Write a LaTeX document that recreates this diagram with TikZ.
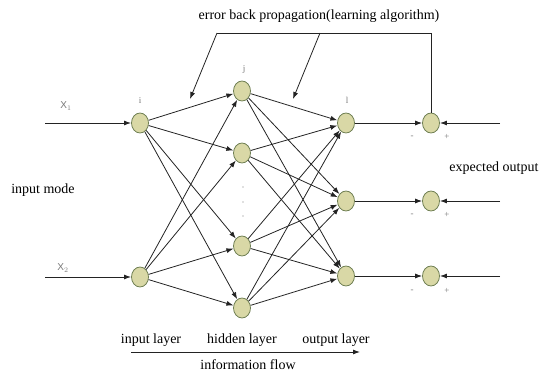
\documentclass[tikz,border=0pt]{standalone}
\usepackage{fontspec}
\setmainfont{Liberation Serif}
\setsansfont{Liberation Sans}
\usetikzlibrary{arrows.meta,shapes.geometric}
\definecolor{nodefill}{RGB}{217,216,166}
\definecolor{nodedraw}{RGB}{112,128,84}
\definecolor{linegray}{RGB}{35,35,35}
\definecolor{lblgray}{RGB}{120,120,120}
\begin{document}
\begin{tikzpicture}[x=1pt,y=-1pt,
  neuron/.style={ellipse,draw=nodedraw,fill=nodefill,line width=0.8pt,minimum width=17pt,minimum height=20pt,inner sep=0pt},
  conn/.style={draw=linegray,line width=0.8pt,-{Latex[length=7pt,width=5pt]}},
  plain/.style={draw=linegray,line width=0.9pt},
  lbl/.style={font=\fontsize{14}{16}\selectfont,inner sep=0pt},
  small/.style={font=\fontsize{9}{10}\selectfont,text=lblgray,inner sep=0pt},
  xlbl/.style={font=\sffamily\fontsize{10}{11}\selectfont,text=lblgray,inner sep=0pt},
  dot/.style={circle,fill=lblgray,inner sep=0pt,minimum size=1.3pt}]
\useasboundingbox (0,0) rectangle (539,375);

% neurons
\node[neuron] (i1) at (140,123) {};
\node[neuron] (i2) at (140,277) {};
\node[neuron] (h1) at (242,91) {};
\node[neuron] (h2) at (242,153) {};
\node[neuron] (h3) at (242,246) {};
\node[neuron] (h4) at (242,308) {};
\node[neuron] (o1) at (346,123) {};
\node[neuron] (o2) at (346,201) {};
\node[neuron] (o3) at (346,276) {};
\node[neuron] (s1) at (431,123) {};
\node[neuron] (s2) at (431,201) {};
\node[neuron] (s3) at (431,276) {};

% free ends
\coordinate (x1) at (45,123);
\coordinate (x2) at (45,277);
\coordinate (e1) at (500,123);
\coordinate (e2) at (500,201);
\coordinate (e3) at (500,276);
\coordinate (fbR) at (431,33);
\coordinate (fbL) at (217,33);
\coordinate (fbM) at (320,33);
\coordinate (ar1) at (190,99);
\coordinate (ar2) at (293,99);
\coordinate (flowA) at (131,352);
\coordinate (flowB) at (360,352);

% input lines
\draw[conn,line width=1pt] (x1) -- (i1);
\draw[conn,line width=1pt] (x2) -- (i2);

% input -> hidden
\foreach \a in {i1,i2}{
  \foreach \b in {h1,h2,h3,h4}{
    \draw[conn] (\a) -- (\b);
  }
}
% hidden -> output
\foreach \a in {h1,h2,h3,h4}{
  \foreach \b in {o1,o2,o3}{
    \draw[conn] (\a) -- (\b);
  }
}
% output -> sum, expected -> sum
\draw[conn] (o1) -- (s1);
\draw[conn] (o2) -- (s2);
\draw[conn] (o3) -- (s3);
\draw[conn,line width=1pt] (e1) -- (s1);
\draw[conn,line width=1pt] (e2) -- (s2);
\draw[conn,line width=1pt] (e3) -- (s3);

% feedback
\draw[plain] (s1.north) -- (fbR) -- (fbL);
\draw[conn] (fbL) -- (ar1);
\draw[conn] (fbM) -- (ar2);

% dots
\node[dot] (d1) at (243,187) {};
\node[dot] (d2) at (243,202) {};
\node[dot] (d3) at (243,216) {};

% labels
\node[small] (li) at (140,101) {i};
\node[small] (lj) at (244,69) {j};
\node[small] (ll) at (347,100) {l};
\node[xlbl] (lx1) at (66,106) {X$_1$};
\node[xlbl] (lx2) at (63,268) {X$_2$};
\foreach \y/\n in {137/1,215/2,291/3}{
  \node[small] (m\n) at (412,\y) {-};
  \node[small] (p\n) at (447,\y) {+};
}

\node[lbl] (top) at (319,16) {error back propagation(learning algorithm)};
\node[lbl] (mode) at (43,190) {input mode};
\node[lbl] (exp) at (494,168) {expected output};
\node[lbl] (il) at (151,340) {input layer};
\node[lbl] (hl) at (242,340) {hidden layer};
\node[lbl] (ol) at (336,340) {output layer};
\node[lbl] (inf) at (248,365) {information flow};
\draw[conn,line width=0.9pt] (flowA) -- (flowB);
\end{tikzpicture}
\end{document}
